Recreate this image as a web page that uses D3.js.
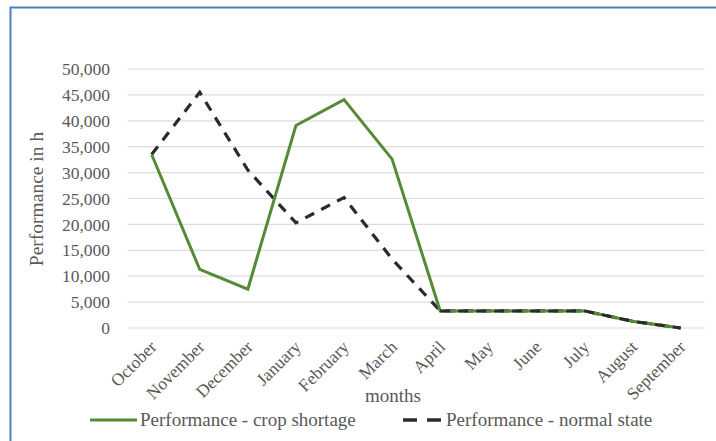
<!DOCTYPE html>
<html><head><meta charset="utf-8">
<script src="https://cdn.jsdelivr.net/npm/d3@7"></script>
<style>body{margin:0;background:#fff}svg{display:block}</style>
</head><body><svg id="c" width="716" height="441"></svg>
<script>
const months = ["October","November","December","January","February","March","April","May","June","July","August","September"];
const cropShortage = [33500, 11300, 7500, 39100, 44100, 32600, 3300, 3300, 3300, 3300, 1300, 0];
const normalState = [33500, 45500, 30500, 20300, 25200, 13300, 3300, 3300, 3300, 3300, 1300, 0];
const yTicks = [0,5000,10000,15000,20000,25000,30000,35000,40000,45000,50000];
const seriesNames = ["Performance - crop shortage","Performance - normal state"];

const svg = d3.select("#c");
svg.append("rect").attr("x",0).attr("y",0).attr("width",716).attr("height",441).attr("fill","#fff");
svg.append("path").attr("d","M10.5,441 V7.5 H716").attr("fill","none").attr("stroke","#4f7fc0").attr("stroke-width",2);

const m = {l:127.6, r:704.7, t:69, b:328};
const x = d3.scaleBand().domain(months).range([m.l, m.r]);
const y = d3.scaleLinear().domain([0,50000]).range([m.b, m.t]);
const font = "'Liberation Serif','Times New Roman',serif";
const txt = "#595959";

svg.append("g").selectAll("line").data(yTicks).join("line")
  .attr("x1",m.l).attr("x2",m.r).attr("y1",d=>y(d)).attr("y2",d=>y(d))
  .attr("stroke","#dcdcdc").attr("stroke-width",1.2);

const yAxis = svg.append("g").attr("transform",`translate(${m.l},0)`)
  .call(d3.axisLeft(y).tickValues(yTicks).tickSize(0).tickPadding(17.6).tickFormat(d3.format(",")));
yAxis.select(".domain").remove();
yAxis.selectAll("text").attr("font-family",font).attr("font-size",17.5).attr("fill",txt);

const xAxis = svg.append("g").attr("transform",`translate(0,${m.b})`)
  .call(d3.axisBottom(x).tickSize(0).tickPadding(0));
xAxis.select(".domain").remove();
xAxis.selectAll("text").attr("font-family",font).attr("font-size",17.5).attr("fill",txt)
  .attr("text-anchor","end").attr("dy",0).attr("y",0)
  .attr("transform","translate(6,20) rotate(-45)");

const cx = d => x(d) + x.bandwidth()/2;
const line = d3.line().x((d,i)=>cx(months[i])).y(d=>y(d));

svg.append("path").datum(normalState).attr("d",line).attr("fill","none")
  .attr("stroke","#2b2b2b").attr("stroke-width",3.2).attr("stroke-dasharray","10,8");
svg.append("path").datum(cropShortage).attr("d",line).attr("fill","none")
  .attr("stroke","#568a35").attr("stroke-width",3);
const line2 = d3.line().defined(d=>d!==null).x((d,i)=>cx(months[i])).y(d=>y(d));
svg.append("path").datum(normalState.map((v,i)=>i>=6?v:null)).attr("d",line2).attr("fill","none")
  .attr("stroke","#2b2b2b").attr("stroke-width",3).attr("stroke-dasharray","10,8");

svg.append("text").attr("x",393).attr("y",402).attr("text-anchor","middle")
  .attr("font-family",font).attr("font-size",19).attr("fill",txt).text("months");
svg.append("text").attr("transform","translate(43,199) rotate(-90)").attr("text-anchor","middle")
  .attr("font-family",font).attr("font-size",19.5).attr("fill",txt).text("Performance in h");

const lg = svg.append("g");
lg.append("line").attr("x1",90).attr("x2",137).attr("y1",420).attr("y2",420).attr("stroke","#568a35").attr("stroke-width",3);
lg.append("text").attr("x",140).attr("y",426).attr("font-family",font).attr("font-size",19).attr("fill",txt).text(seriesNames[0]);
lg.append("line").attr("x1",403).attr("x2",441).attr("y1",420).attr("y2",420).attr("stroke","#2b2b2b").attr("stroke-width",3.4).attr("stroke-dasharray","14,10");
lg.append("text").attr("x",446).attr("y",426).attr("font-family",font).attr("font-size",19).attr("fill",txt).text(seriesNames[1]);
</script></body></html>
